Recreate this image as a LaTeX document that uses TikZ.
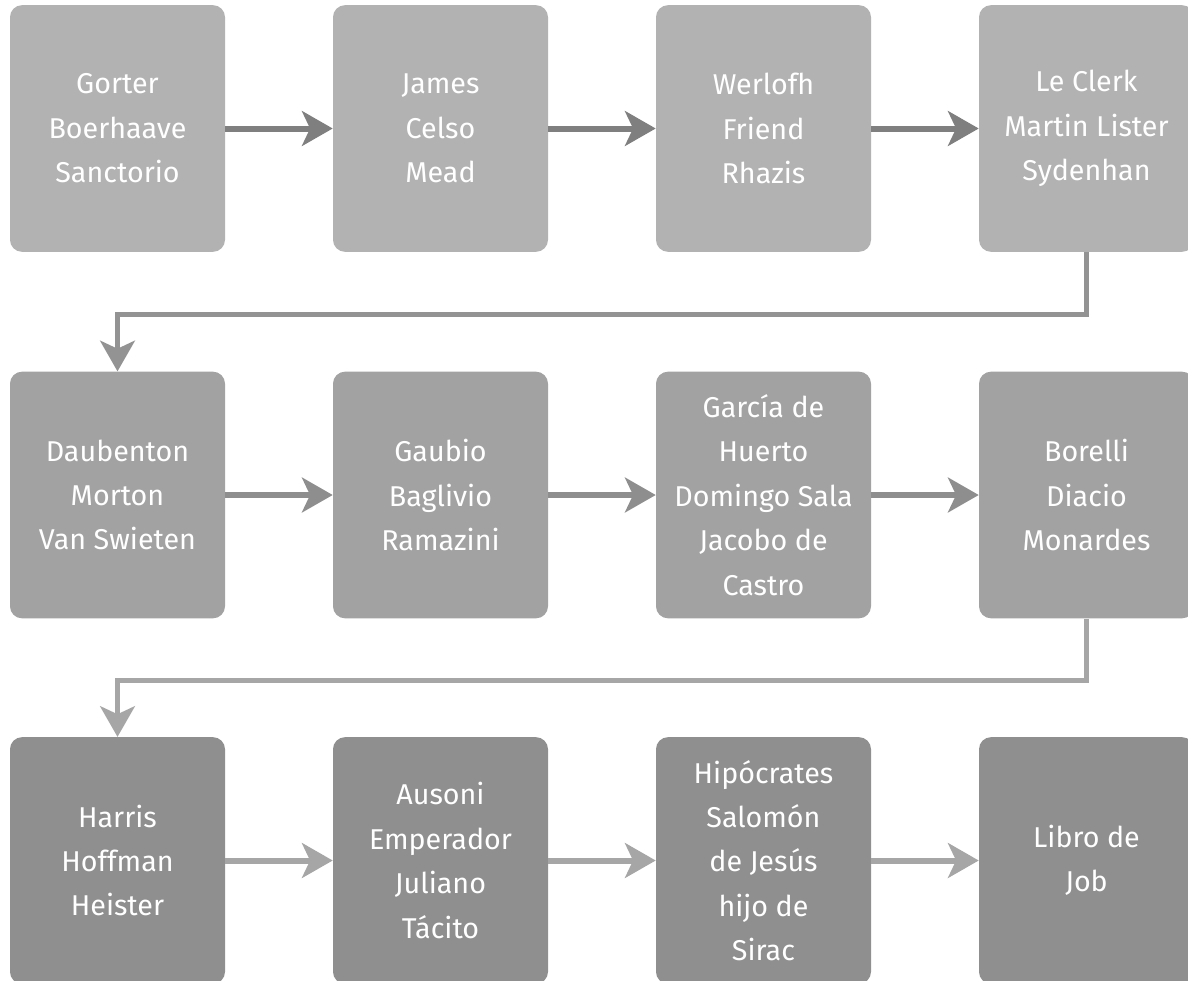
\documentclass[tikz,border=0pt]{standalone}
\usepackage{fontspec}
\setmainfont{Fira Sans}
\usepackage{xcolor}
\usetikzlibrary{arrows.meta, positioning, calc}
\definecolor{boiteA}{HTML}{B2B2B2}
\definecolor{boiteB}{HTML}{A2A2A2}
\definecolor{boiteC}{HTML}{8F8F8F}
\definecolor{flecheA}{HTML}{7F7F7F}
\definecolor{flecheB}{HTML}{8E8E8E}
\definecolor{flecheC}{HTML}{A6A6A6}
\definecolor{lienA}{HTML}{939393}
\definecolor{lienB}{HTML}{A6A6A6}
\tikzstyle{boite} = [rectangle, rounded corners = 9pt, minimum width = 161.25pt, minimum height = 185pt, inner sep = 0pt, align = center, text = white, font = \fontsize{21.5}{33.3}\selectfont]
\tikzstyle{fleche} = [-{Stealth[length = 23pt, width = 26pt, inset = 6pt]}, line width = 4.5pt]
\tikzstyle{lien} = [-{Stealth[length = 23pt, width = 26pt, inset = 6pt]}, line width = 3.75pt]

\begin{document}
\begin{tikzpicture}[x = 0.75pt, y = -0.75pt]
    	\useasboundingbox (0, 0) rectangle (1188, 981);
    	% Premiere ligne
    	\node[boite, fill = boiteA] (a1) at (117.5, 128.5) {Gorter\\Boerhaave\\Sanctorio};
    	\node[boite, fill = boiteA] (a2) at (440.5, 128.5) {James\\Celso\\Mead};
    	\node[boite, fill = boiteA] (a3) at (763.5, 128.5) {Werlofh\\Friend\\Rhazis};
    	\node[boite, fill = boiteA] (a4) at (1086.5, 128.5) {Le Clerk\\Martin Lister\\Sydenhan};
    	% Deuxieme ligne
    	\node[boite, fill = boiteB] (b1) at (117.5, 495) {Daubenton\\Morton\\Van Swieten};
    	\node[boite, fill = boiteB] (b2) at (440.5, 495) {Gaubio\\Baglivio\\Ramazini};
    	\node[boite, fill = boiteB] (b3) at (763.5, 495) {García de\\Huerto\\Domingo Sala\\Jacobo de\\Castro};
    	\node[boite, fill = boiteB] (b4) at (1086.5, 495) {Borelli\\Diacio\\Monardes};
    	% Troisieme ligne
    	\node[boite, fill = boiteC] (c1) at (117.5, 860.5) {Harris\\Hoffman\\Heister};
    	\node[boite, fill = boiteC] (c2) at (440.5, 860.5) {Ausoni\\Emperador\\Juliano\\Tácito};
    	\node[boite, fill = boiteC] (c3) at (763.5, 860.5) {Hipócrates\\Salomón\\de Jesús\\hijo de\\Sirac};
    	\node[boite, fill = boiteC] (c4) at (1086.5, 860.5) {Libro de\\Job};
    	% Fleches
    	\foreach \i/\j in {1/2, 2/3, 3/4} {
          	\draw[fleche, color = flecheA] (a\i.east) -- (a\j.west);
          	\draw[fleche, color = flecheB] (b\i.east) -- (b\j.west);
          	\draw[fleche, color = flecheC] (c\i.east) -- (c\j.west);
    	}
    	% Retours a la ligne
    	\draw[lien, color = lienA] (a4.south) -- ++(0, 62) -| (b1.north);
    	\draw[lien, color = lienB] (b4.south) -- ++(0, 62) -| (c1.north);
\end{tikzpicture}
\end{document}
